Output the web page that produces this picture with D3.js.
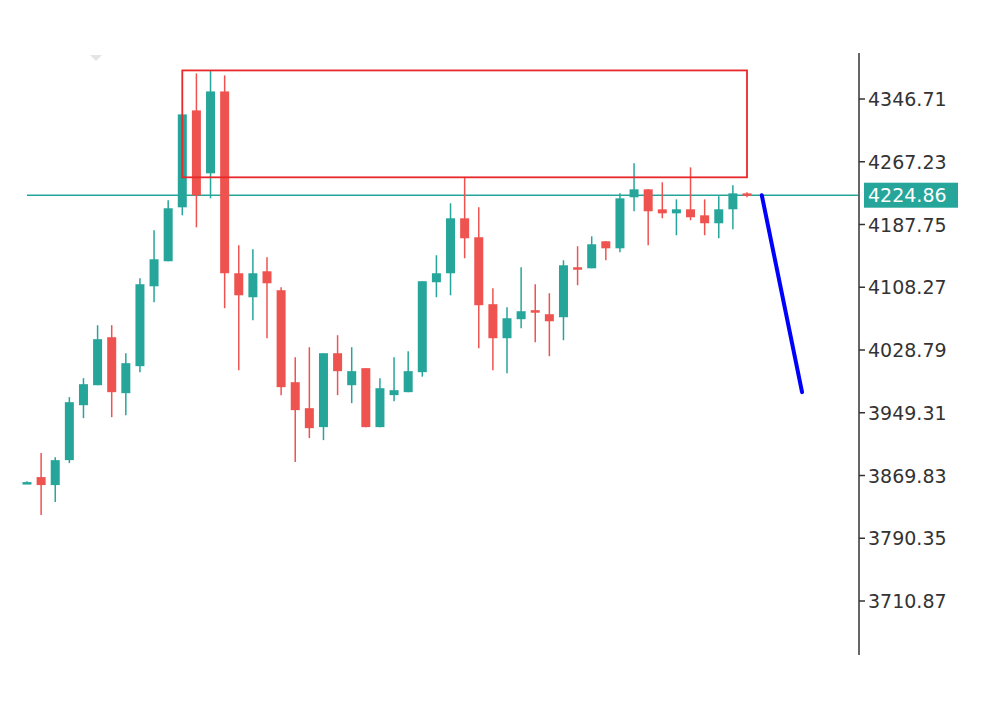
<html>
<head>
<script src="https://d3js.org/d3.v7.min.js"></script>
<style>
  body { margin: 0; background: #fff; }
  svg { display: block; }
</style>
</head>
<body>
<svg width="1000" height="701"></svg>
<script>
// candle OHLC
var opens  = [3861.5,3867.8,3857.7,3889.3,3958.9,3984.2,4045.0,3974.1,4008.3,4109.5,4141.2,4209.5,4332.3,4252.6,4356.3,4126.0,4095.6,4128.5,4104.5,3988.0,3955.1,3931.1,4024.7,3984.2,4005.8,3931.1,3971.6,3975.4,4000.7,4114.6,4126.0,4195.6,4171.6,4086.8,4043.7,4067.8,4079.2,4074.1,4070.3,4133.6,4132.3,4166.5,4157.6,4222.2,4232.3,4207.0,4201.9,4207.0,4199.4,4189.3,4207.0,4227.2];
var highs  = [3862.5,3898.2,3893.1,3969.1,3993.1,4060.2,4060.2,4024.7,4119.7,4180.4,4218.4,4327.2,4379.1,4382.9,4376.6,4161.4,4156.4,4146.2,4108.3,4019.7,4032.3,4024.7,4047.5,4032.3,4005.8,3993.1,4019.7,4027.3,4115.9,4148.8,4214.6,4247.5,4209.5,4107.0,4083.0,4133.6,4112.1,4100.7,4142.4,4160.2,4172.8,4166.5,4227.2,4265.2,4232.3,4241.2,4219.6,4260.1,4219.6,4223.4,4237.4,4228.5];
var lows   = [3860.5,3819.7,3836.2,3885.5,3942.5,3984.2,3943.7,3946.3,4000.7,4089.3,4141.2,4199.4,4184.2,4220.9,4081.7,4003.2,4066.5,4043.7,3971.6,3886.8,3917.2,3914.6,3971.6,3961.5,3931.1,3931.1,3964.0,3975.4,3995.0,4095.6,4098.1,4145.0,4031.1,4003.2,3999.4,4056.4,4038.7,4020.9,4041.2,4110.8,4132.3,4142.4,4152.6,4204.5,4161.4,4195.6,4174.1,4193.1,4174.1,4170.3,4181.7,4222.2];
var closes = [3861.5,3857.7,3889.3,3962.7,3985.5,4042.5,3975.4,4012.1,4112.1,4143.7,4208.3,4327.2,4224.7,4356.3,4126.0,4098.1,4126.0,4113.3,3981.7,3952.6,3929.8,4024.7,4002.0,4002.0,3931.1,3980.4,3977.9,4002.0,4115.9,4126.0,4195.6,4170.3,4085.5,4043.7,4069.0,4077.9,4076.6,4065.2,4136.1,4131.1,4162.7,4157.6,4220.9,4232.3,4204.5,4201.9,4207.0,4196.9,4189.3,4207.0,4227.2,4224.86];
var tickValues = [4346.71,4267.23,4187.75,4108.27,4028.79,3949.31,3869.83,3790.35,3710.87,3631.39];
var lastPrice = 4224.86;
// resistance box: from candle 11 to candle 51
var boxStart = 11, boxEnd = 51, boxTop = 4382.9, boxBottom = 4247.5;
// projected drop
var projX = [52.05, 54.9], projY = [4224.7, 3975.4];

var svg = d3.select("svg");
var x = d3.scaleLinear().domain([0, 51]).range([27, 747]);
var y = d3.scaleLinear().domain([3710.87, 4346.71]).range([601, 99]);
var teal = "#26a69a", red = "#ef5350";

svg.append("clipPath").attr("id", "c").append("rect")
  .attr("x", 0).attr("y", 0).attr("width", 1000).attr("height", 657);
var g = svg.append("g").attr("clip-path", "url(#c)");

// faint marker top left
g.append("path").attr("d", "M90,55 L102,55 L96,61 Z").attr("fill", "#e4e4e4");

// last price line
g.append("line").attr("x1", 27).attr("x2", 858)
  .attr("y1", y(lastPrice)).attr("y2", y(lastPrice))
  .attr("stroke", teal).attr("stroke-width", 1.5);

var data = opens.map(function(o, i) {
  return {i: i, o: o, h: highs[i], l: lows[i], c: closes[i]};
});
var cg = g.selectAll(".candle").data(data).enter().append("g");
cg.append("line")
  .attr("x1", function(d) { return x(d.i); }).attr("x2", function(d) { return x(d.i); })
  .attr("y1", function(d) { return y(d.h); }).attr("y2", function(d) { return y(d.l); })
  .attr("stroke", function(d) { return d.c >= d.o ? teal : red; }).attr("stroke-width", 1.5);
cg.append("rect")
  .attr("x", function(d) { return x(d.i) - 4.5; }).attr("width", 9)
  .attr("y", function(d) { return y(Math.max(d.o, d.c)); })
  .attr("height", function(d) { return Math.max(2.5, Math.abs(y(d.o) - y(d.c))); })
  .attr("fill", function(d) { return d.c >= d.o ? teal : red; });

// box
g.append("rect")
  .attr("x", x(boxStart)).attr("y", y(boxTop))
  .attr("width", x(boxEnd) - x(boxStart)).attr("height", y(boxBottom) - y(boxTop))
  .attr("fill", "none").attr("stroke", "#e8282b").attr("stroke-width", 1.8);

// projection line
g.append("line")
  .attr("x1", x(projX[0])).attr("y1", y(projY[0]))
  .attr("x2", x(projX[1])).attr("y2", y(projY[1]))
  .attr("stroke", "#0000ff").attr("stroke-width", 4).attr("stroke-linecap", "round");

// right axis
var axis = g.append("g");
axis.append("line").attr("x1", 859).attr("x2", 859).attr("y1", 53).attr("y2", 655)
  .attr("stroke", "#333").attr("stroke-width", 1.5);
tickValues.forEach(function(v) {
  axis.append("line").attr("x1", 859).attr("x2", 865).attr("y1", y(v)).attr("y2", y(v))
    .attr("stroke", "#333").attr("stroke-width", 1.5);
  axis.append("text").attr("x", 868).attr("y", y(v) + 7)
    .attr("font-family", "DejaVu Sans").attr("font-size", 19).attr("fill", "#333")
    .text(v.toFixed(2));
});

// last price tag
axis.append("rect").attr("x", 864).attr("y", y(lastPrice) - 12.5)
  .attr("width", 94).attr("height", 25).attr("fill", teal);
axis.append("text").attr("x", 868).attr("y", y(lastPrice) + 7)
  .attr("font-family", "DejaVu Sans").attr("font-size", 19).attr("fill", "#fff")
  .text(lastPrice.toFixed(2));
</script>
</body>
</html>
